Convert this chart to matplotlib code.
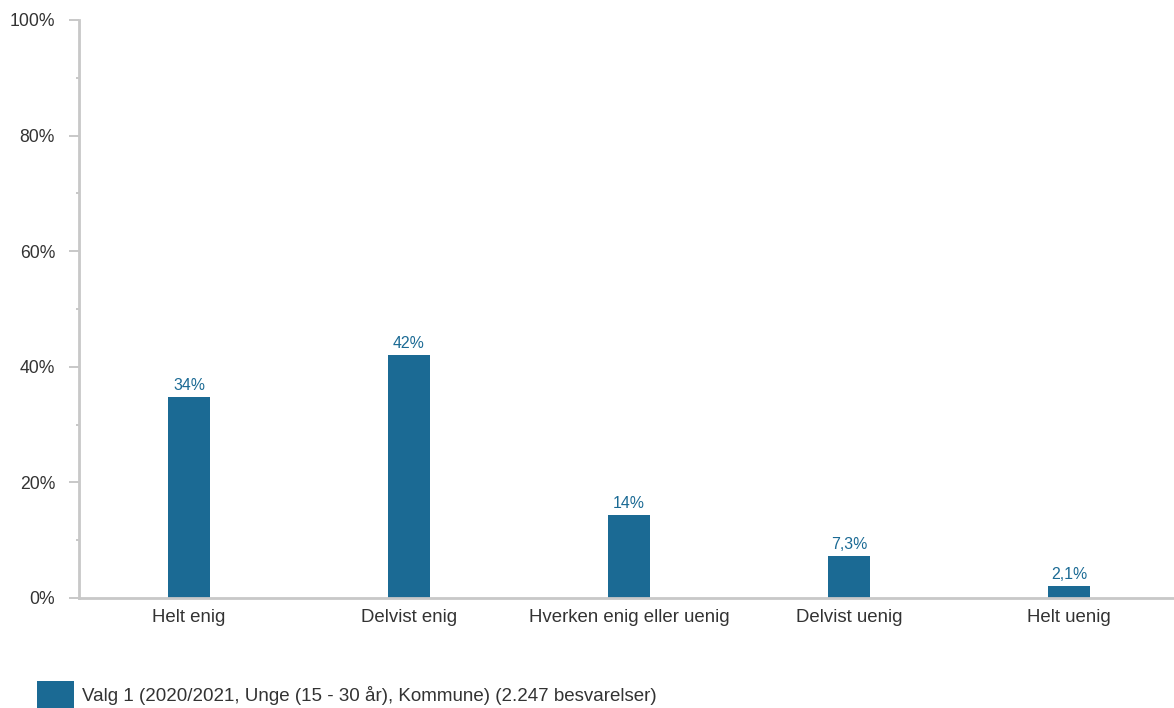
import matplotlib.pyplot as plt
from matplotlib.ticker import MultipleLocator, PercentFormatter

plt.rcParams['font.family'] = ['Liberation Sans', 'DejaVu Sans']

# 데이터
categories = ["Helt enig", "Delvist enig", "Hverken enig eller uenig", "Delvist uenig", "Helt uenig"]
values = [34.8, 42.0, 14.4, 7.3, 2.1]
value_labels = ["34%", "42%", "14%", "7,3%", "2,1%"]
series_name = "Valg 1 (2020/2021, Unge (15 - 30 år), Kommune) (2.247 besvarelser)"

bar_color = '#1b6a94'
axis_color = '#c8c8c8'
text_color = '#333333'

W, H = 1174, 708
fig = plt.figure(figsize=(W / 100, H / 100), dpi=100)
ax = fig.add_axes([79 / W, (H - 598) / H, (W - 79) / W, (598 - 20) / H])

x = range(len(categories))
bars = ax.bar(x, values, width=0.19, color=bar_color, label=series_name, zorder=2)
ax.bar_label(bars, labels=value_labels, padding=3, color=bar_color, fontsize=11.4)

ax.set_xlim(-0.5, 4.477)
ax.set_ylim(0, 100)
ax.set_xticks(list(x))
ax.set_xticklabels(categories)
ax.yaxis.set_major_locator(MultipleLocator(20))
ax.yaxis.set_minor_locator(MultipleLocator(10))
ax.yaxis.set_major_formatter(PercentFormatter(decimals=0))

for side in ('top', 'right'):
    ax.spines[side].set_visible(False)
for side in ('left', 'bottom'):
    ax.spines[side].set_color(axis_color)
    ax.spines[side].set_linewidth(2)

ax.tick_params(axis='y', which='major', length=7.2, width=1.4, color=axis_color,
               pad=10, labelsize=12.7, labelcolor=text_color)
ax.tick_params(axis='y', which='minor', length=2.2, width=1.4, color=axis_color)
ax.tick_params(axis='x', length=0, pad=8, labelsize=13.4, labelcolor=text_color)

# 범례 (하단 왼쪽)
leg_fs = 13.5
em = leg_fs * 100 / 72
fig.legend(handles=[bars], labels=[series_name], loc='lower left',
           bbox_to_anchor=(37 / W, 0), frameon=False, fontsize=leg_fs,
           handlelength=37 / em, handleheight=34 / em, handletextpad=8 / em,
           borderpad=0, borderaxespad=0, labelcolor=text_color)

fig.savefig('out.png', dpi=100)
